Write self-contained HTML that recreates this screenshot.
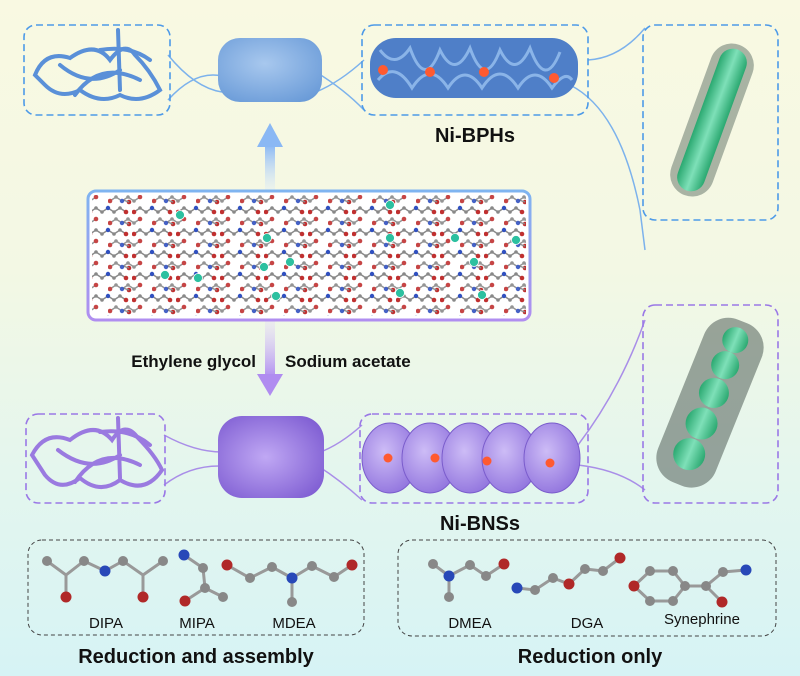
<!DOCTYPE html>
<html><head><meta charset="utf-8"><style>
html,body{margin:0;padding:0;}
body{width:800px;height:676px;overflow:hidden;background:linear-gradient(180deg,#f9f9e2 0%,#f3f8e4 40%,#e4f6ee 70%,#d6f3f5 100%);font-family:"Liberation Sans",Arial,sans-serif;}
svg{display:block}
text{font-family:"Liberation Sans",Arial,sans-serif}
</style></head><body>
<svg width="800" height="676" viewBox="0 0 800 676" xmlns="http://www.w3.org/2000/svg">
<defs>
<pattern id="mol" width="44" height="22" patternUnits="userSpaceOnUse">
<path d="M2 14 L8 10 L14 14 L20 10 L26 14 L32 10 L38 14" stroke="#888" stroke-width="1.4" fill="none"/>
<circle cx="2" cy="14" r="2.3" fill="#c03030"/><circle cx="8" cy="10" r="1.8" fill="#888"/><circle cx="14" cy="14" r="1.8" fill="#888"/><circle cx="20" cy="10" r="2.2" fill="#3050c0"/><circle cx="26" cy="14" r="1.8" fill="#888"/><circle cx="32" cy="10" r="1.8" fill="#888"/><circle cx="38" cy="14" r="2.3" fill="#c03030"/>
<circle cx="41" cy="4" r="2.3" fill="#c03030"/><path d="M41 4 L35 2" stroke="#888" stroke-width="1.4"/>
</pattern>
<pattern id="mol2" width="44" height="22" patternUnits="userSpaceOnUse" patternTransform="translate(20,11)">
<path d="M2 14 L8 10 L14 14 L20 10 L26 14 L32 10" stroke="#888" stroke-width="1.4" fill="none"/>
<circle cx="2" cy="14" r="2.3" fill="#c03030"/><circle cx="8" cy="10" r="1.8" fill="#888"/><circle cx="14" cy="14" r="2.2" fill="#3050c0"/><circle cx="20" cy="10" r="1.8" fill="#888"/><circle cx="26" cy="14" r="1.8" fill="#888"/><circle cx="32" cy="10" r="2.3" fill="#c03030"/>
</pattern>
<linearGradient id="boxb" x1="0" y1="0" x2="0" y2="1"><stop offset="0" stop-color="#7fb4f0"/><stop offset="1" stop-color="#b08ef0"/></linearGradient>
<linearGradient id="upar" x1="0" y1="0" x2="0" y2="1"><stop offset="0" stop-color="#8ab8f4"/><stop offset="1" stop-color="#d8e8fb" stop-opacity="0.3"/></linearGradient>
<linearGradient id="dnar" x1="0" y1="0" x2="0" y2="1"><stop offset="0" stop-color="#e4d8fa" stop-opacity="0.3"/><stop offset="1" stop-color="#b08cf0"/></linearGradient>
<radialGradient id="bsp" cx="0.45" cy="0.4" r="0.7"><stop offset="0" stop-color="#a8c8ee"/><stop offset="1" stop-color="#6a9bd8"/></radialGradient>
<radialGradient id="psp" cx="0.45" cy="0.5" r="0.7"><stop offset="0" stop-color="#c0a8f4"/><stop offset="1" stop-color="#7a58d0"/></radialGradient>
<radialGradient id="ball" cx="0.4" cy="0.4" r="0.7"><stop offset="0" stop-color="#cdbcf6"/><stop offset="1" stop-color="#8d6fdc"/></radialGradient>
<linearGradient id="grn" x1="0" y1="0" x2="1" y2="0"><stop offset="0" stop-color="#2aa870"/><stop offset="0.5" stop-color="#7ee0b8"/><stop offset="1" stop-color="#2aa870"/></linearGradient>
</defs>

<!-- connectors top -->
<g stroke="#7cb2ec" stroke-width="1.5" fill="none">
<path d="M168 55 Q195 88 222 92"/><path d="M168 100 Q195 70 222 76"/>
<path d="M316 92 Q340 82 364 60"/><path d="M316 72 Q345 90 364 110"/>
<path d="M588 60 Q620 58 645 28"/><path d="M570 85 Q620 110 640 210 L645 250"/>
</g>
<!-- connectors bottom -->
<g stroke="#a98ee8" stroke-width="1.5" fill="none">
<path d="M164 435 Q195 452 222 452"/><path d="M164 485 Q190 465 222 466"/>
<path d="M318 453 Q340 445 362 425"/><path d="M318 466 Q340 480 362 500"/>
<path d="M578 445 Q620 390 645 320"/><path d="M578 465 Q620 470 645 490"/>
</g>

<!-- top dashed boxes -->
<g fill="none" stroke="#4d9ae8" stroke-width="1.6" stroke-dasharray="7,4">
<rect x="24" y="25" width="146" height="90" rx="12"/>
<rect x="362" y="25" width="226" height="90" rx="12"/>
<rect x="643" y="25" width="135" height="195" rx="12"/>
</g>
<!-- purple dashed boxes -->
<g fill="none" stroke="#9a78e6" stroke-width="1.6" stroke-dasharray="7,4">
<rect x="26" y="414" width="139" height="89" rx="12"/>
<rect x="360" y="414" width="228" height="89" rx="12"/>
<rect x="643" y="305" width="135" height="198" rx="12"/>
</g>

<!-- blue network -->
<g fill="none" stroke="#5a90d8" stroke-width="4" stroke-linecap="round">
<path d="M35 75 Q45 50 70 58 Q95 40 110 60 Q125 40 135 55 Q150 70 160 90 Q140 105 120 95 Q100 105 80 90 Q60 100 45 85 Z"/>
<path d="M60 65 Q90 90 120 70 M75 95 Q100 60 140 80 M118 30 L120 90 M100 50 Q130 45 150 60"/>
</g>
<!-- blue sponge -->
<rect x="218" y="38" width="104" height="64" rx="22" fill="url(#bsp)"/>
<!-- Ni-BPH rod -->
<rect x="370" y="38" width="208" height="60" rx="26" fill="#4f7fc8"/>
<g fill="none" stroke="#8ab4e8" stroke-width="3">
<path d="M380 50 Q395 70 410 48 Q425 90 440 50 Q455 80 470 48 Q485 90 500 50 Q515 80 530 48 Q545 90 560 52"/>
<path d="M378 80 Q395 60 412 88 Q430 60 448 88 Q465 62 482 88 Q500 60 518 88 Q535 62 552 88 Q565 70 572 80"/>
</g>
<g fill="#ff5a30"><circle cx="383" cy="70" r="5"/><circle cx="430" cy="72" r="5"/><circle cx="484" cy="72" r="5"/><circle cx="554" cy="78" r="5"/></g>
<text x="475" y="142" font-size="20" font-weight="bold" text-anchor="middle" fill="#111">Ni-BPHs</text>
<!-- green rod top -->
<g transform="rotate(20 712 120)">
<rect x="690" y="40" width="44" height="160" rx="22" fill="#6a7a70" opacity="0.55"/>
<rect x="698" y="45" width="28" height="150" rx="14" fill="url(#grn)"/>
</g>

<!-- arrows -->
<rect x="265" y="145" width="10" height="45" fill="url(#upar)"/>
<polygon points="270,123 257,147 283,147" fill="#8ab8f4"/>
<rect x="265" y="320" width="10" height="58" fill="url(#dnar)"/>
<polygon points="270,396 257,374 283,374" fill="#b08cf0"/>

<!-- molecule box -->
<rect x="88" y="191" width="442" height="129" rx="8" fill="#ffffff" stroke="url(#boxb)" stroke-width="3"/>
<rect x="92" y="195" width="434" height="121" fill="url(#mol)"/>
<rect x="92" y="195" width="434" height="121" fill="url(#mol2)" opacity="0.9"/>
<g fill="#2cc0a0" stroke="#fff" stroke-width="0.8">
<circle cx="180" cy="215" r="4.5"/><circle cx="267" cy="238" r="4.5"/><circle cx="390" cy="205" r="4.5"/><circle cx="390" cy="238" r="4.5"/><circle cx="455" cy="238" r="4.5"/><circle cx="516" cy="240" r="4.5"/><circle cx="264" cy="267" r="4.5"/><circle cx="290" cy="262" r="4.5"/><circle cx="474" cy="262" r="4.5"/><circle cx="165" cy="275" r="4.5"/><circle cx="198" cy="278" r="4.5"/><circle cx="276" cy="296" r="4.5"/><circle cx="400" cy="293" r="4.5"/><circle cx="482" cy="295" r="4.5"/>
</g>

<text x="256" y="367" font-size="17" font-weight="bold" text-anchor="end" fill="#111">Ethylene glycol</text>
<text x="285" y="367" font-size="17" font-weight="bold" fill="#111">Sodium acetate</text>

<!-- purple network -->
<g fill="none" stroke="#9a7ae0" stroke-width="4" stroke-linecap="round">
<path d="M32 455 Q45 430 70 440 Q95 420 112 440 Q125 420 138 438 Q155 455 162 470 Q145 495 120 480 Q100 495 80 478 Q60 493 45 475 Z"/>
<path d="M58 450 Q90 475 120 455 M75 482 Q100 445 140 465 M118 418 L120 478 M100 432 Q130 428 150 445"/>
</g>
<!-- purple sponge -->
<rect x="218" y="416" width="106" height="82" rx="24" fill="url(#psp)"/>
<!-- balls -->
<g stroke="#7a5ccc" stroke-width="1">
<ellipse cx="390" cy="458" rx="28" ry="35" fill="url(#ball)"/>
<ellipse cx="430" cy="458" rx="28" ry="35" fill="url(#ball)"/>
<ellipse cx="470" cy="458" rx="28" ry="35" fill="url(#ball)"/>
<ellipse cx="510" cy="458" rx="28" ry="35" fill="url(#ball)"/>
<ellipse cx="552" cy="458" rx="28" ry="35" fill="url(#ball)"/>
</g>
<g fill="#ff5a30"><circle cx="388" cy="458" r="4.5"/><circle cx="435" cy="458" r="4.5"/><circle cx="487" cy="461" r="4.5"/><circle cx="550" cy="463" r="4.5"/></g>
<text x="480" y="530" font-size="20" font-weight="bold" text-anchor="middle" fill="#111">Ni-BNSs</text>
<!-- green rod bottom -->
<g transform="rotate(22 710 400)">
<rect x="680" y="315" width="62" height="175" rx="26" fill="#5e6a64" opacity="0.6"/>
<g fill="url(#grn)"><circle cx="711" cy="335" r="13"/><circle cx="711" cy="362" r="14"/><circle cx="711" cy="392" r="15"/><circle cx="711" cy="425" r="16"/><circle cx="711" cy="458" r="16"/></g>
</g>

<!-- bottom gray boxes -->
<g fill="none" stroke="#444" stroke-width="1" stroke-dasharray="4,3">
<rect x="28" y="540" width="336" height="95" rx="14"/>
<rect x="398" y="540" width="378" height="96" rx="14"/>
</g>
<!-- simple molecules -->
<g stroke="#999" stroke-width="3" fill="none">
<path d="M47 561 L66 575 L84 561 L105 571 L123 561 L143 575 L163 561 M66 575 L66 597 M143 575 L143 597"/>
<path d="M184 555 L203 568 L205 588 L223 597 M205 588 L185 601"/>
<path d="M227 565 L250 578 L272 567 L292 578 L312 566 L334 577 L352 565 M292 578 L292 602"/>
<path d="M433 564 L449 576 L470 565 L486 576 L504 564 M449 576 L449 597"/>
<path d="M517 588 L535 590 L553 578 L569 584 L585 569 L603 571 L620 558"/>
<path d="M634 586 L650 571 L673 571 L685 586 L673 601 L650 601 Z M685 586 L706 586 L723 572 L746 570 M706 586 L722 602"/>
</g>
<g fill="#888"><circle cx="47" cy="561" r="5"/><circle cx="84" cy="561" r="5"/><circle cx="123" cy="561" r="5"/><circle cx="163" cy="561" r="5"/><circle cx="203" cy="568" r="5"/><circle cx="205" cy="588" r="5"/><circle cx="223" cy="597" r="5"/><circle cx="250" cy="578" r="5"/><circle cx="272" cy="567" r="5"/><circle cx="312" cy="566" r="5"/><circle cx="334" cy="577" r="5"/><circle cx="292" cy="602" r="5"/><circle cx="433" cy="564" r="5"/><circle cx="470" cy="565" r="5"/><circle cx="486" cy="576" r="5"/><circle cx="449" cy="597" r="5"/><circle cx="535" cy="590" r="5"/><circle cx="553" cy="578" r="5"/><circle cx="585" cy="569" r="5"/><circle cx="603" cy="571" r="5"/><circle cx="650" cy="571" r="5"/><circle cx="673" cy="571" r="5"/><circle cx="685" cy="586" r="5"/><circle cx="673" cy="601" r="5"/><circle cx="650" cy="601" r="5"/><circle cx="706" cy="586" r="5"/><circle cx="723" cy="572" r="5"/><circle cx="746" cy="570" r="5"/></g>
<g fill="#2848b8"><circle cx="105" cy="571" r="5.5"/><circle cx="184" cy="555" r="5.5"/><circle cx="292" cy="578" r="5.5"/><circle cx="449" cy="576" r="5.5"/><circle cx="517" cy="588" r="5.5"/><circle cx="746" cy="570" r="5.5"/></g>
<g fill="#b02828"><circle cx="66" cy="597" r="5.5"/><circle cx="143" cy="597" r="5.5"/><circle cx="185" cy="601" r="5.5"/><circle cx="227" cy="565" r="5.5"/><circle cx="352" cy="565" r="5.5"/><circle cx="504" cy="564" r="5.5"/><circle cx="569" cy="584" r="5.5"/><circle cx="620" cy="558" r="5.5"/><circle cx="634" cy="586" r="5.5"/><circle cx="722" cy="602" r="5.5"/></g>

<g font-size="15" fill="#111" text-anchor="middle">
<text x="106" y="628">DIPA</text><text x="197" y="628">MIPA</text><text x="294" y="628">MDEA</text>
<text x="470" y="628">DMEA</text><text x="587" y="628">DGA</text><text x="702" y="624">Synephrine</text>
</g>
<g font-size="20" font-weight="bold" fill="#111" text-anchor="middle">
<text x="196" y="663">Reduction and assembly</text>
<text x="590" y="663">Reduction only</text>
</g>
</svg>
</body></html>
